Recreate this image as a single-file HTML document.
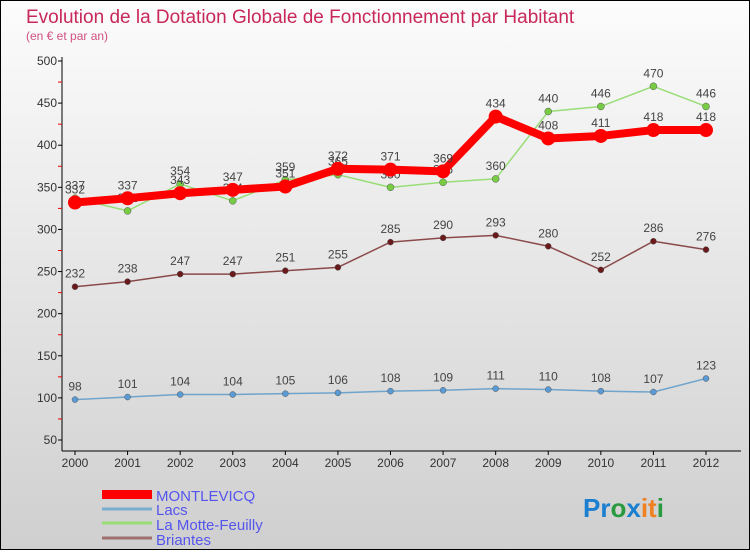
<!DOCTYPE html>
<html><head><meta charset="utf-8"><style>
body{margin:0}
#c{width:748px;height:548px;border:1px solid #000;background:linear-gradient(#fcfcfc,#cfcfcf);position:relative;font-family:"Liberation Sans",sans-serif}
</style></head><body>
<div id="c">
<svg id="s" width="748" height="548" xmlns="http://www.w3.org/2000/svg">
<text x="25" y="22" font-size="19" fill="#c8285a">Evolution de la Dotation Globale de Fonctionnement par Habitant</text>
<text x="25" y="39" font-size="12" fill="#d05080">(en € et par an)</text>
<g id="axes"></g><g id="series"></g>
<g>
<rect x="101" y="489" width="50" height="9" fill="#f00"/>
<text x="155" y="500" font-size="15" fill="#5555ee">MONTLEVICQ</text>
<line x1="101" y1="508" x2="151" y2="508" stroke="#7aaed0" stroke-width="3"/>
<text x="155" y="514" font-size="15" fill="#5555ee">Lacs</text>
<line x1="101" y1="522" x2="151" y2="522" stroke="#99dd77" stroke-width="3"/>
<text x="155" y="529" font-size="15" fill="#5555ee">La Motte-Feuilly</text>
<line x1="101" y1="537" x2="151" y2="537" stroke="#a07070" stroke-width="3"/>
<text x="155" y="544" font-size="15" fill="#5555ee">Briantes</text>
</g>
<text x="582" y="516" font-size="26" font-weight="bold"><tspan fill="#1a7fd0">Pr</tspan><tspan fill="#2a9a40">o</tspan><tspan fill="#1a7fd0">x</tspan><tspan fill="#f08020">it</tspan><tspan fill="#2a9a40">i</tspan></text>
</svg></div>
<script>
const years=[2000,2001,2002,2003,2004,2005,2006,2007,2008,2009,2010,2011,2012];
const yTicks=[50,100,150,200,250,300,350,400,450,500];
const montlevicq=[332,337,343,347,351,372,371,369,434,408,411,418,418];
const lacs=[98,101,104,104,105,106,108,109,111,110,108,107,123];
const motte=[337,322,354,334,359,365,350,356,360,440,446,470,446];
const briantes=[232,238,247,247,251,255,285,290,293,280,252,286,276];
const NS="http://www.w3.org/2000/svg";
const x0=74,x1=705,yb=439,yt=60;
const X=i=>x0+(x1-x0)*i/(years.length-1);
const Y=v=>yb-(v-50)/(450)*(yb-yt);
function mk(t,a,p){const e=document.createElementNS(NS,t);for(const k in a)e.setAttribute(k,a[k]);p.appendChild(e);return e;}
const ax=document.getElementById('axes'),sg=document.getElementById('series');
let e=mk('line',{x1:61,y1:56,x2:61,y2:450,stroke:'#000'},ax);


e=mk('line',{x1:61,y1:450,x2:740,y2:450,stroke:'#000'},ax);


yTicks.forEach(v=>{
 mk('line',{x1:57,y1:Y(v),x2:61,y2:Y(v),stroke:'#000'},ax);
 if(v<500)mk('line',{x1:57,y1:Y(v+25),x2:61,y2:Y(v+25),stroke:'#e00'},ax);
 const t=mk('text',{x:56,y:Y(v)+4,'font-size':12,'text-anchor':'end',fill:'#333'},ax);t.textContent=v;
 
 
});
years.forEach((y,i)=>{
 mk('line',{x1:X(i),y1:450,x2:X(i),y2:454,stroke:'#000'},ax);
 const t=mk('text',{x:X(i),y:466,'font-size':12,'text-anchor':'middle',fill:'#333'},ax);t.textContent=y;
 
 
});
function series(d,col,w,r,dot,name){
 const g=mk('g',{},sg);
 
 
 mk('polyline',{points:d.map((v,i)=>X(i)+','+Y(v)).join(' '),fill:'none',stroke:col,'stroke-width':w,'stroke-linejoin':'round'},g);
 d.forEach((v,i)=>{
  const c=mk('circle',{cx:X(i),cy:Y(v),r:r,fill:dot,stroke:'#555','stroke-width':r>4?0:0.5},g);
  
  
  const t=mk('text',{x:X(i),y:Y(v)-9,'font-size':12,'text-anchor':'middle',fill:'#444'},g);t.textContent=v;
 });
}
series(lacs,'#6fa4cc',1.5,3,'#5b9bd5','lacs');
series(briantes,'#8b4a4a',1.5,3,'#6a1a1a','briantes');
series(motte,'#99dd77',1.5,3.5,'#77cc44','la-motte-feuilly');
series(montlevicq,'#f00',8,7,'#f00','montlevicq');
</script>
</body></html>
